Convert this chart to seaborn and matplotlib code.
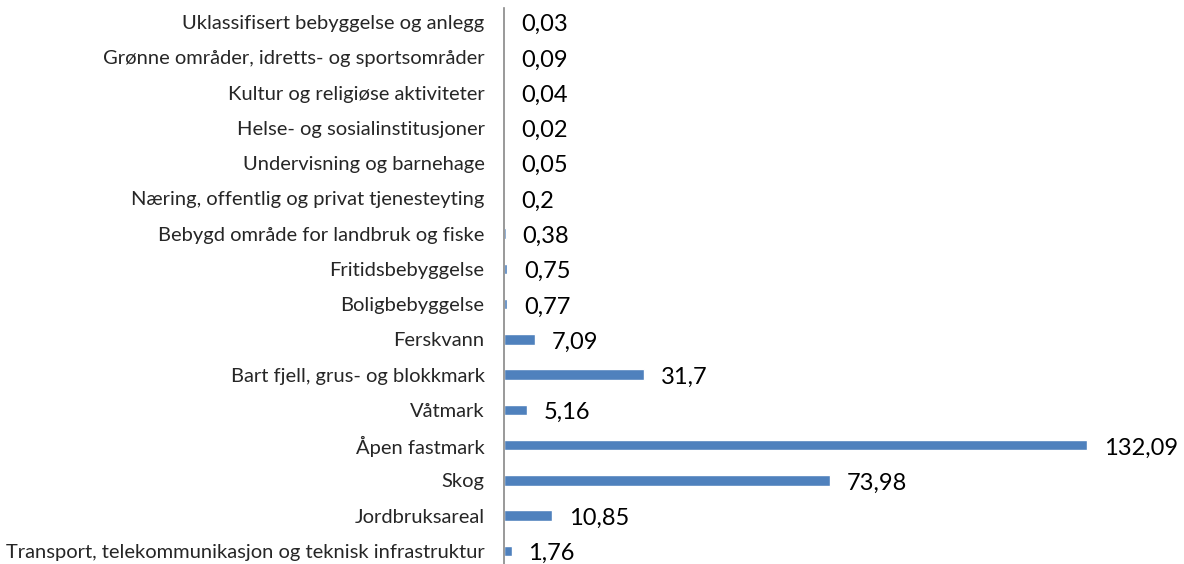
import matplotlib
matplotlib.use("Agg")
import pandas as pd
import seaborn as sns
import matplotlib.pyplot as plt

categories = [
    "Uklassifisert bebyggelse og anlegg",
    "Grønne områder, idretts- og sportsområder",
    "Kultur og religiøse aktiviteter",
    "Helse- og sosialinstitusjoner",
    "Undervisning og barnehage",
    "Næring, offentlig og privat tjenesteyting",
    "Bebygd område for landbruk og fiske",
    "Fritidsbebyggelse",
    "Boligbebyggelse",
    "Ferskvann",
    "Bart fjell, grus- og blokkmark",
    "Våtmark",
    "Åpen fastmark",
    "Skog",
    "Jordbruksareal",
    "Transport, telekommunikasjon og teknisk infrastruktur",
]
values = [0.03, 0.09, 0.04, 0.02, 0.05, 0.2, 0.38, 0.75, 0.77,
          7.09, 31.7, 5.16, 132.09, 73.98, 10.85, 1.76]
value_labels = ["0,03", "0,09", "0,04", "0,02", "0,05", "0,2", "0,38", "0,75", "0,77",
                "7,09", "31,7", "5,16", "132,09", "73,98", "10,85", "1,76"]

df = pd.DataFrame({"kategori": categories, "areal": values})

sns.set_style("white")
plt.rcParams["font.family"] = ["Lato", "DejaVu Sans"]

fig = plt.figure(figsize=(11.84, 5.64), dpi=100)
ax = fig.add_axes([0.4257, 0.0, 0.565, 0.9858])

sns.barplot(data=df, x="areal", y="kategori", color="#4f81bd",
            width=0.3, orient="h", ax=ax, saturation=1)

ax.set_xlim(0, 151.6)
ax.set_ylim(15.37, -0.397)

# verdietiketter til høyre for hver stolpe
for i, (v, lab) in enumerate(zip(values, value_labels)):
    ax.annotate(lab, (v, i), xytext=(12, -2), textcoords="offset points",
                va="center", ha="left", fontsize=17, color="black")

for s in ["top", "right", "bottom"]:
    ax.spines[s].set_visible(False)
ax.spines["left"].set_color("#888888")
ax.spines["left"].set_linewidth(1.2)

ax.set_xticks([])
ax.set_xlabel("")
ax.set_ylabel("")
ax.tick_params(axis="y", length=0, pad=14, labelsize=14.5)

fig.savefig("out.png", dpi=100)
